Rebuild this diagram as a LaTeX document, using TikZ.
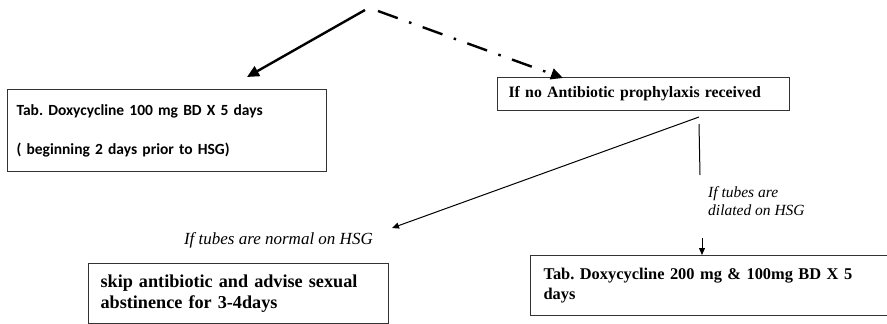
\documentclass[tikz,border=0pt]{standalone}
\usepackage{fontspec}
\setmainfont{Liberation Serif}
\newfontfamily\calibri{Carlito}
\usetikzlibrary{arrows.meta}
\frenchspacing
\tikzset{
  box/.style={draw=black!80, line width=1.1pt, anchor=north west, inner ysep=0pt, align=left},
  thickarrow/.style={line width=2.4pt, -{Triangle[length=12pt,width=11pt]}},
  thinline/.style={line width=1pt},
  thinarrow/.style={line width=1pt, -{Triangle[length=7pt,width=6pt]}},
  lbl/.style={inner sep=0pt, align=left}
}
\begin{document}
\begin{tikzpicture}[x=1pt,y=-1pt]
\useasboundingbox (0,0) rectangle (887,324);
% boxes
\node[box, minimum width=319pt, minimum height=82pt, inner xsep=9pt, text width=301pt,
      font=\calibri\bfseries\fontsize{15.5}{18}\selectfont] (b1) at (7,89)
  {Tab. Doxycycline 100 mg BD X 5 days\\[21pt]( beginning 2 days prior to HSG)};
\node[box, minimum width=292pt, minimum height=33pt, inner xsep=11pt, text width=270pt,
      font=\bfseries\fontsize{15.8}{18}\selectfont] (b2) at (497,77)
  {If no Antibiotic prophylaxis received};
\node[box, minimum width=300pt, minimum height=60pt, inner xsep=12pt, text width=276pt,
      font=\bfseries\fontsize{18.2}{21}\selectfont] (b3) at (88,263)
  {skip antibiotic and advise sexual\\abstinence for 3-4days};
\node[box, minimum width=370pt, minimum height=60pt, inner xsep=13pt, text width=344pt,
      font=\bfseries\fontsize{16.4}{20}\selectfont] (b4) at (530,255)
  {Tab. Doxycycline 200 mg \& 100mg BD X 5\\days};
% labels
\node[lbl, anchor=east, font=\itshape\fontsize{17}{20}\selectfont] (l1) at (373,240) {If tubes are normal on HSG};
\node[lbl, anchor=north west, font=\itshape\fontsize{15.5}{18}\selectfont] (l2) at (708,186) {If tubes are\\dilated on HSG};
% coordinates
\coordinate (s1) at (365,10);
\coordinate (e1) at (247,77);
\coordinate (s2) at (378,11);
\coordinate (e2) at (563,78);
\coordinate (s3) at (699,117);
\coordinate (e3) at (392,228);
\coordinate (s4) at (699,124);
\coordinate (e4) at (700,175);
\coordinate (s5) at (702,238);
% connectors
\draw[thickarrow] (s1) -- (e1);
\draw[thickarrow, dash pattern=on 21pt off 12pt on 2.5pt off 12pt] (s2) -- (e2);
\draw[thinarrow] (s3) -- (e3);
\draw[thinline] (s4) -- (e4);
\draw[thinarrow] (s5) -- (b4.north -| s5);
\end{tikzpicture}
\end{document}
